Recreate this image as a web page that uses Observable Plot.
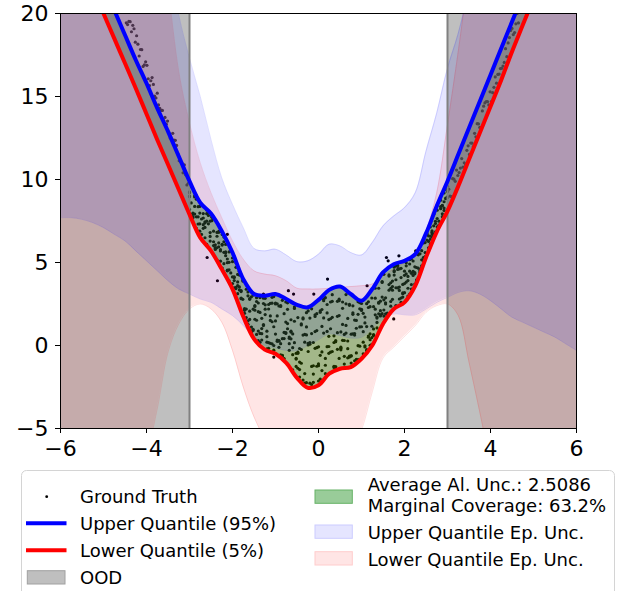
<!DOCTYPE html>
<html><head><meta charset="utf-8">
<script src="https://cdn.jsdelivr.net/npm/d3@7"></script>
<script src="https://cdn.jsdelivr.net/npm/@observablehq/plot@0.6"></script>
<style>
html,body{margin:0;padding:0;background:#fff;overflow:hidden}
#wrap{position:relative;width:622px;height:591px;font-family:"DejaVu Sans",sans-serif}
#chart svg{display:block}
#legend{position:absolute;left:0;top:460px}
</style></head><body>
<div id="wrap"><div id="chart"></div>
<svg id="legend" width="622" height="131" font-family="DejaVu Sans" font-size="18">
<rect x="21.5" y="10.5" width="593" height="140" rx="5" fill="white" stroke="#d4d4d4" stroke-width="1"/>
<circle cx="46.7" cy="36.7" r="1.4" fill="black"/>
<line x1="26" x2="66.5" y1="63.3" y2="63.3" stroke="blue" stroke-width="4"/>
<line x1="26" x2="66.5" y1="90.3" y2="90.3" stroke="red" stroke-width="4"/>
<rect x="27.3" y="110.7" width="37.7" height="13.3" fill="#bfbfbf" stroke="#a0a0a0"/>
<text x="80" y="43.3">Ground Truth</text>
<text x="80" y="70">Upper Quantile (95%)</text>
<text x="80" y="97">Lower Quantile (5%)</text>
<text x="80" y="124">OOD</text>
<rect x="315" y="30" width="37.3" height="13.3" fill="#99cc99" stroke="#66b266"/>
<rect x="315" y="65" width="37.3" height="13.3" fill="#e5e5ff" stroke="#ccccff"/>
<rect x="315" y="91.7" width="37.3" height="13.3" fill="#ffe5e5" stroke="#ffcccc"/>
<text x="367.7" y="31">Average Al. Unc.: 2.5086</text>
<text x="367.7" y="51.7">Marginal Coverage: 63.2%</text>
<text x="367.7" y="79">Upper Quantile Ep. Unc.</text>
<text x="367.7" y="105.7">Lower Quantile Ep. Unc.</text>
</svg>
</div>
<script>
const xTicks = [-6, -4, -2, 0, 2, 4, 6];
const yTicks = [-5, 0, 5, 10, 15, 20];
const xDomain = [-6, 6];
const yDomain = [-5, 20];
const oodSpans = [[-6, -3], [3, 6]];
const oodBounds = [-3, 3];

const bandX = [-6,-5.75,-5.5,-5.25,-5,-4.75,-4.5,-4.25,-4,-3.75,-3.5,-3.25,-3,-2.75,-2.5,-2.25,-2,-1.75,-1.5,-1.25,-1,-0.75,-0.5,-0.25,0,0.25,0.5,0.75,1,1.25,1.5,1.75,2,2.25,2.5,2.75,3,3.25,3.5,3.75,4,4.25,4.5,4.75,5,5.25,5.5,5.75,6];
const upperQ = [27.5,26.0,24.6,23.1,21.6,20.2,18.7,17.2,15.8,14.3,12.9,11.4,9.9,8.6,7.95,6.9,5.6,4.0,3.1,3.0,3.1,2.8,2.45,2.3,2.75,3.35,3.55,3.1,2.7,3.4,4.4,4.9,5.1,5.5,6.75,8.4,9.9,11.5,13.1,14.7,16.3,17.9,19.5,21.1,22.7,24.3,25.9,27.5,29.1];
const lowerQ = [26.1,24.6,23.0,21.5,20.0,18.5,17.0,15.5,13.95,12.4,10.9,9.4,7.9,6.5,5.7,4.6,3.4,1.75,0.4,-0.25,-0.5,-1.05,-1.95,-2.55,-2.4,-1.7,-1.4,-1.3,-0.8,0.0,1.3,2.2,2.6,3.6,5.3,6.85,8.1,9.6,11.2,12.8,14.4,16.0,17.7,19.3,20.9,22.5,24.1,25.8,27.4];
const upperEpHi = [32,32,32,32,32,32,32,32,32,27,23.5,19.9,17.3,15.0,12.4,10.1,8.5,7.1,5.85,5.7,5.8,5.45,5.05,5.1,5.5,6.1,6.0,5.6,5.45,6.2,7.2,7.8,8.3,9.2,11.7,14.0,16.7,18.8,21.5,25,29,32,32,32,32,32,32,32,32];
const upperEpLo = [7.7,7.7,7.6,7.4,7.1,6.7,6.3,5.7,5.1,4.5,3.9,3.4,3.1,2.8,2.6,2.2,1.8,1.2,0.5,0.0,-0.15,-0.3,-0.3,0.0,0.35,0.7,0.6,0.45,0.5,1.0,1.6,1.9,1.85,1.85,2.2,2.6,2.9,3.2,3.3,3.1,2.7,2.2,1.7,1.4,1.1,0.8,0.5,0.1,-0.3];
const lowerEpHi = [32,32,32,32,32,32,32,32,32,26,21.5,16.5,13.4,11.0,9.2,7.7,6.3,5.2,4.5,4.3,4.2,3.9,3.45,3.4,3.4,3.45,3.5,3.55,3.6,3.7,4.2,4.6,5.0,5.6,6.9,9.2,13.3,17.7,22.5,27,31,32,32,32,32,32,32,32,32];
const lowerEpLo = [-12,-12,-12,-12,-11,-10,-9,-7.8,-6.5,-3.8,-0.4,1.3,2.2,2.5,2.2,1.4,-0.3,-2.5,-4.3,-5.6,-6.5,-7,-7,-7,-7,-7,-7,-6.5,-5.1,-2.8,-0.75,-0.1,0.55,1.2,2.0,2.4,2.5,1.8,-1.0,-4.0,-7,-9,-10,-11,-12,-12,-12,-12,-12];

const gtX = [-3.00,-2.96,-2.92,-2.88,-2.84,-2.80,-2.76,-2.72,-2.68,-2.64,-2.60,-2.56,-2.52,-2.48,-2.44,-2.40,-2.36,-2.32,-2.28,-2.24,-2.20,-2.16,-2.12,-2.08,-2.04,-2.00,-1.96,-1.92,-1.88,-1.84,-1.80,-1.76,-1.72,-1.68,-1.64,-1.60,-1.56,-1.52,-1.48,-1.44,-1.40,-1.36,-1.32,-1.28,-1.24,-1.20,-1.16,-1.12,-1.08,-1.04,-1.00,-0.96,-0.92,-0.88,-0.84,-0.80,-0.76,-0.72,-0.68,-0.64,-0.60,-0.56,-0.52,-0.48,-0.44,-0.40,-0.36,-0.32,-0.28,-0.24,-0.20,-0.16,-0.12,-0.08,-0.04,0.00,0.04,0.08,0.12,0.16,0.20,0.24,0.28,0.32,0.36,0.40,0.44,0.48,0.52,0.56,0.60,0.64,0.68,0.72,0.76,0.80,0.84,0.88,0.92,0.96,1.00,1.04,1.08,1.12,1.16,1.20,1.24,1.28,1.32,1.36,1.40,1.44,1.48,1.52,1.56,1.60,1.64,1.68,1.72,1.76,1.80,1.84,1.88,1.92,1.96,2.00,2.04,2.08,2.12,2.16,2.20,2.24,2.28,2.32,2.36,2.40,2.44,2.48,2.52,2.56,2.60,2.64,2.68,2.72,2.76,2.80,2.84,2.88,2.92,2.96,3.00];
const gtYa = [8.2,8.59,7.76,8.38,9.02,7.32,7.98,7.62,7.06,7.38,7.94,8.06,7.49,7.8,6.25,5.84,5.89,6.87,5.77,6.05,4.93,5.64,4.99,4.56,4.37,5.27,3.91,3.43,4.28,4.47,3.31,1.93,2.17,3.39,3.23,2.07,1.11,3.04,2.41,0.67,2.04,2.89,1.02,2.85,2.84,0.86,2.2,1.51,0.1,-0.28,1.48,2.51,0.26,-0.56,2.72,1.92,0.73,2.57,0.51,0.4,0.7,2.32,-0.82,-0.47,-1.9,1.24,1.66,-1.69,0.64,-0.36,-2.27,0.72,-1.22,1.85,0.9,-1.11,-2.03,2.17,2.79,2.88,2.47,1.56,-0.4,2.66,-1.32,0.23,0.77,2.79,-0.17,1.27,0.3,0.75,-0.19,-0.64,-0.63,1.97,-0.92,1.51,1.88,2.58,2.18,0.2,-0.02,1.14,2.63,0.01,2.86,2.34,2.19,1.06,1.91,1.78,3.85,2.14,2.57,1.81,3.67,3.78,3.33,4.24,2.41,4.84,3.32,4.65,3.68,3.73,4.31,2.98,5.17,4.35,4.44,3.7,4.7,5.53,4.49,4.69,5.1,5.3,6.35,5.7,6.58,6.54,7.21,8.2,7.65,7.18,8.75,7.76,8.14,9.41,8.91];
const gtYb = [9.2,9.61,7.7,9.01,7.75,6.89,7.33,8.51,7.28,7.45,8.17,7.83,6.8,7.72,6.02,5.9,6.58,5.95,5.7,6.1,6.53,5.41,5.21,5.01,3.7,3.73,3.47,3.5,3.83,4.24,2.86,3.95,1.94,1.49,2.99,1.57,0.85,0.91,1.58,2.65,0.87,0.19,1.64,1.26,2.19,0.2,0.17,0.13,2.55,1.13,2.56,0.33,-0.11,2.41,-0.63,0.79,2.62,1.01,0.11,0.81,-0.55,1.46,-1.26,-0.4,-1.0,-1.07,1.6,0.2,-2.24,0.13,0.18,2.21,-2.22,0.84,-0.13,-0.08,2.08,-0.39,2.7,-1.7,1.96,0.55,1.61,1.7,-1.25,0.3,-0.23,2.7,-0.1,0.31,-0.65,1.21,1.63,2.48,-1.06,2.39,0.72,-0.45,-0.01,2.21,2.53,1.94,1.71,-0.25,2.29,0.35,0.48,1.0,1.85,1.71,2.55,1.85,3.8,2.75,2.5,1.75,4.25,2.65,3.88,4.51,4.81,4.76,4.61,2.6,3.17,4.23,4.8,3.45,4.48,3.4,4.22,4.74,3.87,5.46,5.52,4.8,5.16,5.6,6.74,6.27,6.4,6.72,7.91,7.35,8.15,8.7,7.39,7.93,9.19,8.88,8.19];
const gtYc = [9.0,7.78,7.97,8.95,8.81,7.75,6.89,8.45,7.95,6.49,7.49,8.0,6.57,7.86,7.63,6.07,6.81,6.18,5.08,4.67,5.61,6.09,4.54,3.89,5.7,5.05,4.13,4.98,3.61,3.35,3.25,3.88,2.22,2.2,1.28,2.83,2.93,0.98,2.13,1.52,0.29,1.99,0.71,2.53,1.86,0.53,-0.17,2.54,2.9,2.95,2.5,1.78,0.3,2.35,-0.6,0.42,0.78,2.18,-0.29,0.86,-0.13,0.17,-0.78,-1.37,-1.45,1.3,-2.08,0.67,1.12,2.08,1.65,-1.26,-1.72,-0.17,1.92,-2.14,2.0,1.15,0.75,-1.19,-0.07,-0.47,2.62,-0.36,0.18,-1.27,1.76,1.8,0.82,2.24,-1.12,3.07,0.27,2.42,0.68,0.7,1.53,-0.84,2.64,1.12,1.13,-0.5,1.36,2.52,0.57,0.7,1.16,0.66,2.85,1.39,2.6,2.1,2.92,4.29,2.87,1.95,4.18,2.37,2.78,4.45,3.48,4.58,2.8,2.86,2.92,4.48,3.82,4.16,3.1,3.67,5.09,4.32,3.95,4.1,4.55,5.71,5.3,6.2,6.68,5.89,7.14,6.9,6.69,6.84,7.15,7.25,8.24,8.45,8.66,9.59,9.27];
const gtYd = [8.96,9.57,7.93,7.92,7.06,8.36,8.38,6.69,7.68,7.11,6.09,7.33,6.29,7.52,6.89,5.79,5.15,6.82,6.87,6.69,6.25,5.59,4.5,5.64,3.66,4.13,4.09,4.71,3.12,3.53,2.82,2.78,2.12,1.68,1.48,2.78,0.8,2.19,2.35,2.88,2.56,0.73,0.33,1.2,2.45,-0.2,2.47,1.78,1.43,0.0,0.69,0.25,2.38,0.11,0.41,-0.79,1.41,1.32,0.43,1.55,-1.47,2.23,-0.47,1.68,-0.18,-0.24,0.63,-2.26,1.98,0.03,0.08,-2.35,0.18,1.75,-1.25,-1.22,-0.59,-1.51,1.66,-0.78,0.85,-0.06,1.01,3.06,0.58,-1.37,2.66,-0.78,-0.26,2.62,0.67,2.51,-0.74,-0.7,-0.62,1.88,0.63,1.04,-0.85,-0.04,2.11,0.83,-0.09,-0.32,0.5,2.34,0.07,0.6,3.45,1.65,3.45,2.67,1.92,1.77,1.91,1.75,3.33,3.44,3.55,4.72,3.96,3.47,3.52,4.09,3.12,3.18,4.99,3.91,4.91,5.21,4.47,4.39,5.52,4.66,4.4,5.16,6.18,5.35,6.78,6.6,6.11,6.82,6.62,7.48,8.44,7.49,8.37,8.41,8.28,8.84,9.59];

const oodLeftX = [-3.00,-3.03,-3.06,-3.09,-3.12,-3.15,-3.18,-3.21,-3.24,-3.27,-3.30,-3.33,-3.36,-3.39,-3.42,-3.45,-3.48,-3.51,-3.54,-3.57,-3.60,-3.63,-3.66,-3.69,-3.72,-3.75,-3.78,-3.81,-3.84,-3.87,-3.90,-3.93,-3.96,-3.99,-4.02,-4.05,-4.08,-4.11,-4.14,-4.17,-4.20,-4.23,-4.26,-4.29,-4.32,-4.35,-4.38,-4.41,-4.44,-4.47];
const oodLeftY = [9.25,9.76,9.67,10.28,10.89,10.4,11.01,11.12,11.13,11.54,12.05,12.36,12.37,12.78,12.39,12.5,12.81,13.52,13.33,13.74,13.55,14.16,14.17,14.28,14.49,15.2,14.91,15.02,15.73,16.14,15.95,15.66,16.07,16.88,17.09,16.9,16.81,17.82,17.83,17.44,18.15,18.66,18.27,19.08,19.29,18.9,19.51,19.52,19.33,19.44];
const oodRightX = [3.00,3.03,3.06,3.09,3.12,3.15,3.18,3.21,3.24,3.27,3.30,3.33,3.36,3.39,3.42,3.45,3.48,3.51,3.54,3.57,3.60,3.63,3.66,3.69,3.72,3.75,3.78,3.81,3.84,3.87,3.90,3.93,3.96,3.99,4.02,4.05,4.08,4.11,4.14,4.17,4.20,4.23,4.26,4.29,4.32,4.35,4.38,4.41,4.44,4.47,4.50,4.53,4.56,4.59,4.62,4.65];
const oodRightY = [8.95,9.42,9.0,8.97,10.05,10.02,9.89,10.57,10.24,10.42,10.69,11.26,10.74,11.01,10.89,11.76,12.03,11.51,12.2,12.19,11.98,12.78,12.57,13.36,13.35,13.14,13.13,14.13,14.42,14.61,14.7,14.69,14.49,15.28,14.7,15.23,15.55,16.18,15.8,16.33,16.35,16.68,16.7,16.83,17.05,17.88,17.4,18.23,18.55,18.98,19.1,18.73,18.85,19.38,20.0,19.43];
const outlierX = [-2.12,-2.59,-2.35,-1.28,-0.70,-0.58,-0.11,0.21,1.13,1.58,1.62,1.87,1.75,2.26,-1.04];
const outlierY = [6.7,5.3,3.9,3.1,3.3,3.1,3.1,4.0,3.6,5.3,5.1,5.4,1.6,5.7,-0.7];

const gt = [];
gtX.forEach((x, i) => { gt.push({x, y: gtYa[i]}, {x, y: gtYb[i]}, {x, y: gtYc[i]}, {x, y: gtYd[i]}); });
oodLeftX.forEach((x, i) => gt.push({x, y: oodLeftY[i]}));
oodRightX.forEach((x, i) => gt.push({x, y: oodRightY[i]}));
outlierX.forEach((x, i) => gt.push({x, y: outlierY[i]}));

const bands = bandX.map((x, i) => ({x, U: upperQ[i], L: lowerQ[i], ubLo: upperEpLo[i], ubHi: upperEpHi[i], lbLo: lowerEpLo[i], lbHi: lowerEpHi[i]}));
const curve = "catmull-rom";
const fmt = d => d < 0 ? "\u2212" + Math.abs(d) : String(d);

const chart = Plot.plot({
  width: 622, height: 460,
  marginLeft: 60, marginRight: 46, marginTop: 13, marginBottom: 32,
  style: {fontSize: "22px", fontFamily: "DejaVu Sans", background: "white", color: "black", overflow: "visible"},
  x: {domain: xDomain, label: null},
  y: {domain: yDomain, label: null},
  marks: [
    Plot.dot(gt, {x: "x", y: "y", r: 1.6, fill: "black", stroke: "none", clip: true}),
    Plot.areaY(bands, {x: "x", y1: "L", y2: "U", fill: "green", fillOpacity: 0.4, curve, clip: true}),
    Plot.rect(oodSpans, {x1: d => d[0], x2: d => d[1], y1: () => yDomain[0], y2: () => yDomain[1], fill: "gray", fillOpacity: 0.5}),
    Plot.areaY(bands, {x: "x", y1: "lbLo", y2: "lbHi", fill: "red", fillOpacity: 0.1, curve, clip: true}),
    Plot.line(bands, {x: "x", y: "lbLo", stroke: "red", strokeOpacity: 0.12, strokeWidth: 1, curve, clip: true}),
    Plot.line(bands, {x: "x", y: "lbHi", stroke: "red", strokeOpacity: 0.12, strokeWidth: 1, curve, clip: true}),
    Plot.areaY(bands, {x: "x", y1: "ubLo", y2: "ubHi", fill: "blue", fillOpacity: 0.1, curve, clip: true}),
    Plot.line(bands, {x: "x", y: "ubLo", stroke: "blue", strokeOpacity: 0.12, strokeWidth: 1, curve, clip: true}),
    Plot.line(bands, {x: "x", y: "ubHi", stroke: "blue", strokeOpacity: 0.12, strokeWidth: 1, curve, clip: true}),
    Plot.ruleX(oodBounds, {stroke: "gray", strokeWidth: 2}),
    Plot.line(bands, {x: "x", y: "U", stroke: "blue", strokeWidth: 4, curve, clip: true}),
    Plot.line(bands, {x: "x", y: "L", stroke: "red", strokeWidth: 4, curve, clip: true}),
    Plot.frame({stroke: "black", strokeWidth: 1}),
    Plot.axisX({ticks: xTicks, tickFormat: fmt, tickSize: 5, tickPadding: 7, label: null}),
    Plot.axisY({ticks: yTicks, tickFormat: fmt, tickSize: 5, tickPadding: 7, label: null})
  ]
});
document.getElementById("chart").appendChild(chart);
</script>
</body></html>
